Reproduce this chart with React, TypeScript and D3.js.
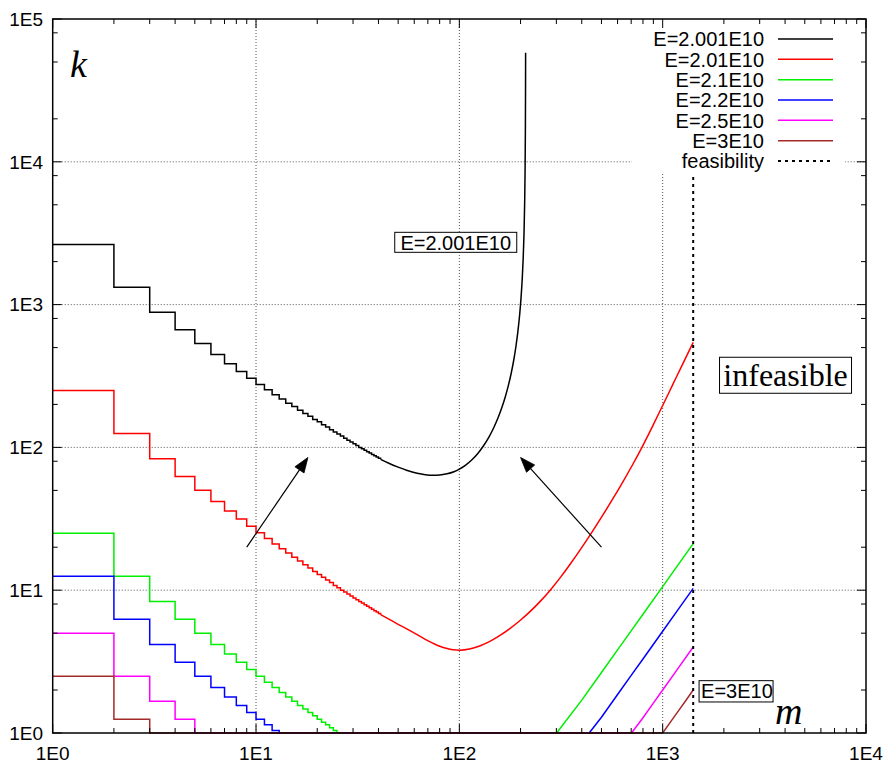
import React from "react";
import * as d3 from "d3";

// ---- plot frame ----
const W = 886;
const H = 767;
const FRAME = { left: 52.7, right: 866, top: 19, bottom: 733 };

const mDomain: [number, number] = [1, 1e4];
const kDomain: [number, number] = [1, 1e5];
const xTickValues = [1, 10, 100, 1000, 10000];
const xTickLabels = ["1E0", "1E1", "1E2", "1E3", "1E4"];
const yTickValues = [1, 10, 100, 1000, 10000, 100000];
const yTickLabels = ["1E0", "1E1", "1E2", "1E3", "1E4", "1E5"];
const xMinorMultipliers = [2, 3, 4, 5, 6, 7, 8, 9];
const yMinorMultipliers = [2, 5, 8];

// ---- series ----
const seriesNames = ["E=2.001E10", "E=2.01E10", "E=2.1E10", "E=2.2E10", "E=2.5E10", "E=3E10"];
const seriesColors = ["#000000", "#ff0000", "#00ee00", "#0000ff", "#ff00ff", "#a52a2a"];

// k at integer m = 1, 2, 3, ... (drawn as steps)
const steps2001 = [
  2640, 1322, 885, 666, 535, 448, 386, 340, 305, 276,
  253, 234, 218, 204, 193, 182, 173, 165, 157, 151,
  144, 139, 133, 128, 124, 120, 116, 112, 109, 106,
  103, 100, 97.8, 95.4, 93.2, 91.2, 89.3, 87.4, 85.7, 84.1,
];
// [m, k] beyond the stepped part
const tail2001: [number, number][] = [
  [41, 82.5], [45, 77.5], [50, 72.8], [55, 69.2], [62, 65.9], [68, 64.4],
  [74, 63.8], [80, 64.0], [87, 65.3], [94, 67.6], [100, 70.5], [107, 74.9],
  [115, 81.7], [123, 90.4], [131, 101.8], [140, 118.6], [148, 138.4],
  [155, 161.1], [162, 190.8], [168, 224.5], [174, 269.5], [180, 332],
  [185, 406], [190, 515], [194, 646], [198, 852], [201, 1106], [204, 1551],
  [206, 2096], [208, 3185], [209.5, 5147], [210.5, 8633], [211.2, 16264],
  [211.6, 32600], [211.78, 58000],
];

const steps201 = [
  250, 125, 83.3, 62.6, 50.2, 41.8, 35.9, 31.5, 28.0, 25.3,
  23.0, 21.1, 19.5, 18.2, 17.0, 16.0, 15.1, 14.3, 13.5, 12.9,
  12.3, 11.8, 11.3, 10.8, 10.4, 10.0, 9.70, 9.39, 9.10, 8.83,
  8.58, 8.34, 8.12, 7.91, 7.71, 7.53, 7.35, 7.18, 7.03, 6.88,
];
const tail201: [number, number][] = [
  [41, 6.74], [45, 6.27], [50, 5.77], [56, 5.29], [62, 4.88], [68, 4.53],
  [74, 4.26], [80, 4.05], [87, 3.90], [93, 3.83], [100, 3.80], [112.2, 3.873],
  [125.9, 4.069], [141.3, 4.379], [158.5, 4.822], [177.8, 5.405], [199.5, 6.158],
  [223.9, 7.135], [251.2, 8.419], [281.8, 10.13], [316.2, 12.44], [354.8, 15.56],
  [398.1, 19.71], [446.7, 25.22], [501.2, 32.58], [562.3, 42.5], [631, 56.0],
  [707.9, 74.7], [794.3, 101.3], [891.3, 140.3], [1000, 196.6], [1122, 276.0],
  [1259, 387.6], [1413, 544.3],
];

const steps21 = [
  25, 12.5, 8.33, 6.25, 5, 4.17, 3.57, 3.13, 2.78, 2.5,
  2.27, 2.08, 1.92, 1.79, 1.67, 1.56, 1.47, 1.39, 1.32, 1.25,
  1.19, 1.14, 1.09, 1.04, 1.0,
];
const tail21: [number, number][] = [
  [26, 1], [301, 1], [400, 1.7], [500, 2.65], [600, 3.82], [700, 5.19],
  [800, 6.78], [1000, 10.6], [1200, 15.3], [1413, 21.2],
];

const steps22 = [12.5, 6.25, 4.17, 3.13, 2.5, 2.08, 1.79, 1.56, 1.39, 1.25, 1.14, 1.04, 1.0];
const tail22: [number, number][] = [
  [14, 1], [435, 1], [500, 1.29], [600, 1.86], [700, 2.53], [800, 3.3],
  [1000, 5.16], [1200, 7.43], [1413, 10.3],
];

const steps25 = [5, 2.5, 1.67, 1.25, 1.0];
const tail25: [number, number][] = [
  [6, 1], [703, 1], [800, 1.28], [900, 1.62], [1000, 2.0], [1200, 2.88], [1413, 4.0],
];

const steps3 = [2.5, 1.25, 1.0];
const tail3: [number, number][] = [
  [4, 1], [1000, 1], [1100, 1.21], [1200, 1.44], [1300, 1.69], [1413, 2.0],
];

const feasibilityM = 1413;

// arrows: [from m, from k, to m, to k]
const arrows: [number, number, number, number][] = [
  [9, 20, 18, 85],
  [500, 20, 200, 85],
];

const SANS = "'Liberation Sans', Arial, Helvetica, sans-serif";
const SERIF = "'Liberation Serif', 'Times New Roman', Times, serif";

export default function App() {
  const x = d3.scaleLog().domain(mDomain).range([FRAME.left, FRAME.right]);
  const y = d3.scaleLog().domain(kDomain).range([FRAME.bottom, FRAME.top]);

  const stepGen = d3
    .line<[number, number]>()
    .x((d) => x(d[0]))
    .y((d) => y(d[1]))
    .curve(d3.curveStepAfter);
  const smoothGen = d3
    .line<[number, number]>()
    .x((d) => x(d[0]))
    .y((d) => y(d[1]))
    .curve(d3.curveMonotoneX);
  const straightGen = d3
    .line<[number, number]>()
    .x((d) => x(d[0]))
    .y((d) => y(d[1]))
    .curve(d3.curveLinear);

  const series = [
    { steps: steps2001, tail: tail2001, smooth: true },
    { steps: steps201, tail: tail201, smooth: true },
    { steps: steps21, tail: tail21, smooth: false },
    { steps: steps22, tail: tail22, smooth: false },
    { steps: steps25, tail: tail25, smooth: false },
    { steps: steps3, tail: tail3, smooth: false },
  ].map((s, i) => ({ ...s, name: seriesNames[i], color: seriesColors[i] }));

  // minor tick positions
  const xMinor: number[] = [];
  for (let dec = 1; dec < 1e4; dec *= 10) xMinorMultipliers.forEach((mm) => xMinor.push(dec * mm));
  const yMinor: number[] = [];
  for (let dec = 1; dec < 1e5; dec *= 10) yMinorMultipliers.forEach((mm) => yMinor.push(dec * mm));

  const gridColor = "#555";
  const majorLen = 9;
  const minorLen = 5;

  // key layout
  const keyRect = { x0: 632, x1: 845, y0: FRAME.top + 1, y1: 173 };
  const keyTextX = 764;
  const keySample = [778, 833];
  const keyRowY = (i: number) => 39 + i * 20.33;

  const headLen = 15;
  const headHalf = 5.5;

  return (
    <div style={{ position: "absolute", left: 0, top: 0 }}>
      <svg width={W} height={H} viewBox={`0 0 ${W} ${H}`} style={{ display: "block", background: "#fff" }}>
        <rect x={0} y={0} width={W} height={H} fill="#fff" />

        {/* grid */}
        <g stroke={gridColor} strokeWidth={1} strokeDasharray="1 2" fill="none">
          {xTickValues.slice(1, -1).map((v) => (
            <line key={`gx${v}`} x1={x(v)} x2={x(v)} y1={FRAME.bottom} y2={FRAME.top} />
          ))}
          {yTickValues.slice(1, -1).map((v) => (
            <line key={`gy${v}`} x1={FRAME.left} x2={FRAME.right} y1={y(v)} y2={y(v)} />
          ))}
        </g>

        {/* curves */}
        {series.map((s) => {
          const stepPts: [number, number][] = s.steps.map((k, i) => [i + 1, k] as [number, number]);
          stepPts.push(s.tail[0]);
          const gen = s.smooth ? smoothGen : straightGen;
          return (
            <g key={s.name} fill="none" stroke={s.color} strokeWidth={1.5} strokeLinejoin="miter">
              <path d={stepGen(stepPts) || ""} />
              <path d={gen(s.tail) || ""} />
            </g>
          );
        })}

        {/* feasibility limit */}
        <line
          x1={x(feasibilityM)}
          x2={x(feasibilityM)}
          y1={y(1)}
          y2={y(1e5)}
          stroke="#000"
          strokeWidth={2}
          strokeDasharray="3 4"
        />

        {/* arrows */}
        {arrows.map(([m0, k0, m1, k1], i) => {
          const x0 = x(m0), y0 = y(k0), x1 = x(m1), y1 = y(k1);
          const dx = x1 - x0, dy = y1 - y0;
          const len = Math.hypot(dx, dy);
          const ux = dx / len, uy = dy / len;
          const bx = x1 - ux * headLen, by = y1 - uy * headLen;
          const px = -uy * headHalf, py = ux * headHalf;
          return (
            <g key={`arrow${i}`}>
              <line x1={x0} y1={y0} x2={bx} y2={by} stroke="#000" strokeWidth={1.2} />
              <polygon
                points={`${x1},${y1} ${bx + px},${by + py} ${bx - px},${by - py}`}
                fill="#000"
                stroke="#000"
                strokeWidth={0.8}
              />
            </g>
          );
        })}

        {/* boxed labels */}
        <g>
          <rect x={x(96) - 61} y={y(2730) - 10} width={122} height={20} fill="#fff" stroke="#000" strokeWidth={1} />
          <text x={x(96)} y={y(2730) + 7.2} fontFamily={SANS} fontSize={20} textAnchor="middle" fill="#000">
            E=2.001E10
          </text>
        </g>
        <g>
          <rect x={x(4020) - 66} y={y(320) - 18} width={132} height={36} fill="#fff" stroke="#000" strokeWidth={1} />
          <text x={x(4020)} y={y(320) + 11} fontFamily={SERIF} fontSize={32} textAnchor="middle" fill="#000">
            infeasible
          </text>
        </g>
        <g>
          <rect x={x(1510)} y={y(1.96) - 10.6} width={74} height={21.3} fill="#fff" stroke="#000" strokeWidth={1} />
          <text x={x(1510) + 2} y={y(1.96) + 7.2} fontFamily={SANS} fontSize={20} fill="#000">
            E=3E10
          </text>
        </g>

        {/* key */}
        <rect x={keyRect.x0} y={keyRect.y0} width={keyRect.x1 - keyRect.x0} height={keyRect.y1 - keyRect.y0} fill="#fff" />
        {series.map((s, i) => (
          <g key={`key${i}`}>
            <text x={keyTextX} y={keyRowY(i) + 7.2} fontFamily={SANS} fontSize={20} textAnchor="end" fill="#000">
              {s.name}
            </text>
            <line x1={keySample[0]} x2={keySample[1]} y1={keyRowY(i)} y2={keyRowY(i)} stroke={s.color} strokeWidth={1.5} />
          </g>
        ))}
        <text x={keyTextX} y={keyRowY(6) + 7.2} fontFamily={SANS} fontSize={20} textAnchor="end" fill="#000">
          feasibility
        </text>
        <line
          x1={keySample[0]}
          x2={keySample[1]}
          y1={keyRowY(6)}
          y2={keyRowY(6)}
          stroke="#000"
          strokeWidth={2}
          strokeDasharray="3 4"
        />

        {/* border */}
        <rect
          x={FRAME.left}
          y={FRAME.top}
          width={FRAME.right - FRAME.left}
          height={FRAME.bottom - FRAME.top}
          fill="none"
          stroke="#000"
          strokeWidth={1.5}
        />

        {/* ticks */}
        <g stroke="#000" strokeWidth={1}>
          {xTickValues.map((v) => (
            <g key={`xt${v}`}>
              <line x1={x(v)} x2={x(v)} y1={FRAME.bottom} y2={FRAME.bottom - majorLen} />
              <line x1={x(v)} x2={x(v)} y1={FRAME.top} y2={FRAME.top + majorLen} />
            </g>
          ))}
          {xMinor.map((v) => (
            <g key={`xm${v}`}>
              <line x1={x(v)} x2={x(v)} y1={FRAME.bottom} y2={FRAME.bottom - minorLen} />
              <line x1={x(v)} x2={x(v)} y1={FRAME.top} y2={FRAME.top + minorLen} />
            </g>
          ))}
          {yTickValues.map((v) => (
            <g key={`yt${v}`}>
              <line x1={FRAME.left} x2={FRAME.left + majorLen} y1={y(v)} y2={y(v)} />
              <line x1={FRAME.right} x2={FRAME.right - majorLen} y1={y(v)} y2={y(v)} />
            </g>
          ))}
          {yMinor.map((v) => (
            <g key={`ym${v}`}>
              <line x1={FRAME.left} x2={FRAME.left + minorLen} y1={y(v)} y2={y(v)} />
              <line x1={FRAME.right} x2={FRAME.right - minorLen} y1={y(v)} y2={y(v)} />
            </g>
          ))}
        </g>

        {/* tick labels */}
        <g fontFamily={SANS} fontSize={19} fill="#000">
          {xTickValues.map((v, i) => (
            <text key={`xl${v}`} x={x(v)} y={760} textAnchor="middle">
              {xTickLabels[i]}
            </text>
          ))}
          {yTickValues.map((v, i) => (
            <text key={`yl${v}`} x={43} y={y(v) + 6.8} textAnchor="end">
              {yTickLabels[i]}
            </text>
          ))}
        </g>

        {/* axis names */}
        <text x={70} y={77} fontFamily={SERIF} fontStyle="italic" fontSize={38} fill="#000">
          k
        </text>
        <text x={775} y={724} fontFamily={SERIF} fontStyle="italic" fontSize={38} fill="#000">
          m
        </text>
      </svg>
    </div>
  );
}
